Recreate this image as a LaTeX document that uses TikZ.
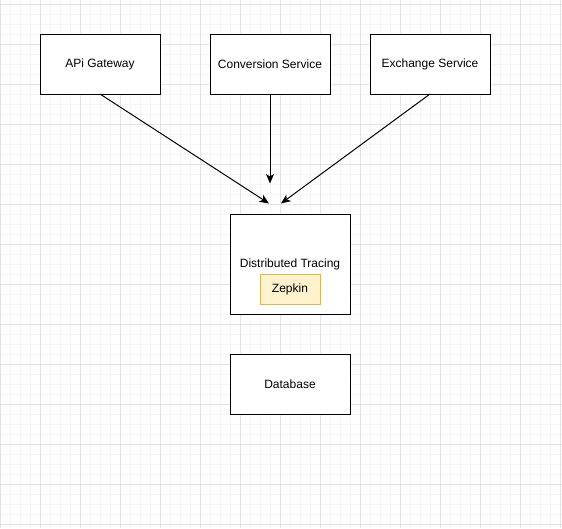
\documentclass[tikz,border=0pt]{standalone}
\usepackage{fontspec}
\setmainfont{Liberation Sans}
\usetikzlibrary{arrows.meta,positioning}
\definecolor{zepkinfill}{HTML}{FFF2CC}
\definecolor{zepkinline}{HTML}{D6B656}
\tikzstyle{service} = [rectangle, draw, fill=white, line width=1pt, outer sep=0pt,
    minimum width=120pt, minimum height=60pt, inner sep=0pt, font=\fontsize{12}{14}\selectfont]
\tikzstyle{tracer}  = [service, minimum height=100pt]
\tikzstyle{zepkin}  = [rectangle, draw=zepkinline, fill=zepkinfill, line width=1pt, outer sep=0pt,
    minimum width=60pt, minimum height=30pt, inner sep=0pt, font=\fontsize{12}{14}\selectfont]
\tikzstyle{line} = [draw, line width=1pt, -{Stealth[length=9.5pt,width=8pt,inset=2.5pt]}]
\tikzstyle{gridminor} = [draw=black!4, line width=1pt]
\tikzstyle{gridmajor} = [draw=black!11, line width=1pt]

\begin{document}
\begin{tikzpicture}[x=1pt,y=-1pt]
    \useasboundingbox (0,0) rectangle (562,528);
    % Background grid
    \foreach \gx in {0,10,...,560} \draw [gridminor] (\gx,0) -- (\gx,528);
    \foreach \gy in {4,14,...,524} \draw [gridminor] (0,\gy) -- (562,\gy);
    \foreach \gx in {0,40,...,560} \draw [gridmajor] (\gx,0) -- (\gx,528);
    \foreach \gy in {4,44,...,524} \draw [gridmajor] (0,\gy) -- (562,\gy);

    % Place nodes
    \node [service] (apiGateway) at (100,64) {APi Gateway};
    \node [service, right=50pt of apiGateway] (conversionService) {Conversion Service};
    \node [service, right=40pt of conversionService] (exchangeService) {Exchange Service};
    \node [tracer] (distTracing) at (290,264) {Distributed Tracing};
    \node [zepkin] (zepkinBox) at (290,289) {Zepkin};
    \node [service, below=40pt of distTracing] (database) {Database};

    \coordinate (gatewayEnd)    at (269,203.5);
    \coordinate (conversionEnd) at (270,183.5);
    \coordinate (exchangeEnd)   at (281,203.5);

    \path [line] (apiGateway.south)        -- (gatewayEnd);
    \path [line] (conversionService.south) -- (conversionEnd);
    \path [line] (exchangeService.south)   -- (exchangeEnd);
\end{tikzpicture}
\end{document}
